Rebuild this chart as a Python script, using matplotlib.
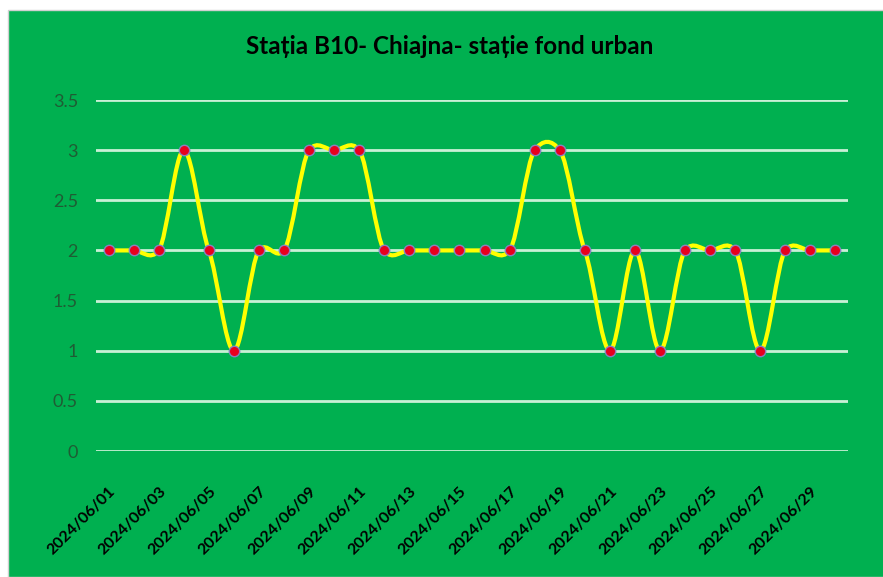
import matplotlib
matplotlib.use("Agg")
import matplotlib.pyplot as plt
from matplotlib.path import Path
from matplotlib.patches import PathPatch, Rectangle

plt.rcParams['font.family'] = ['Lato', 'DejaVu Sans']

# daily values, June 2024
dates = ["2024/06/%02d" % d for d in range(1, 31)]
values = [2, 2, 2, 3, 2, 1, 2, 2, 3, 3,
          3, 2, 2, 2, 2, 2, 2, 3, 3, 2,
          1, 2, 1, 2, 2, 2, 1, 2, 2, 2]
yticks = [0, 0.5, 1, 1.5, 2, 2.5, 3, 3.5]
ytick_labels = ["0", "0.5", "1", "1.5", "2", "2.5", "3", "3.5"]

GREEN = "#00b050"
TENSION = 0.11  # how far bezier handles reach, tuned to look like Excel's smoothing

fig = plt.figure(figsize=(8.83, 5.77), dpi=100, facecolor="white")
# chart area background (leaves thin white border top/left like the screenshot)
fig.patches.append(Rectangle((8 / 883, 0), 1, (577 - 10) / 577,
                             transform=fig.transFigure, facecolor=GREEN,
                             edgecolor="#d0d0d0", linewidth=1, zorder=-10))

ax = fig.add_axes([96 / 883, (577 - 451) / 577, (848 - 96) / 883, (451 - 100) / 577])
ax.set_facecolor("none")
ax.set_xlim(-0.5, len(values) - 0.5)
ax.set_ylim(0, 3.5)

for s in ax.spines.values():
    s.set_visible(False)

ax.set_yticks(yticks)
ax.set_yticklabels(ytick_labels, fontsize=13, color="#1f5c34")
ax.grid(axis="y", color="#c9f0d6", linewidth=2)
ax.set_axisbelow(True)
ax.tick_params(axis="both", length=0)
ax.tick_params(axis="y", pad=13)

x = list(range(len(values)))
ax.set_xticks(x[::2])
ax.set_xticklabels(dates[::2], rotation=45, ha="right", rotation_mode="anchor",
                   fontsize=11.5, fontweight="bold", color="black")
ax.tick_params(axis="x", pad=24)

# smoothed line (bezier through the points)
n = len(values)
verts = [(x[0], values[0])]
codes = [Path.MOVETO]
for i in range(n - 1):
    p0 = (x[max(i - 1, 0)], values[max(i - 1, 0)])
    p1 = (x[i], values[i])
    p2 = (x[i + 1], values[i + 1])
    p3 = (x[min(i + 2, n - 1)], values[min(i + 2, n - 1)])
    c1 = (p1[0] + (p2[0] - p0[0]) / 6, p1[1] + (p2[1] - p0[1]) * TENSION)
    c2 = (p2[0] - (p3[0] - p1[0]) / 6, p2[1] - (p3[1] - p1[1]) * TENSION)
    verts += [c1, c2, p2]
    codes += [Path.CURVE4] * 3
ax.add_patch(PathPatch(Path(verts, codes), facecolor="none", edgecolor="#ffff00",
                       linewidth=3, clip_on=False, zorder=3))

ax.plot(x, values, linestyle="none", marker="o", markersize=7.5,
        markerfacecolor="#e8001e", markeredgecolor="#8a7fc0",
        markeredgewidth=1, clip_on=False, zorder=4)

fig.text(450 / 883, 1 - 47 / 577, "Stația B10- Chiajna- stație fond urban",
         ha="center", va="center", fontsize=17.5, fontweight="bold", color="black")

fig.savefig("out.png", dpi=100, facecolor="white")
